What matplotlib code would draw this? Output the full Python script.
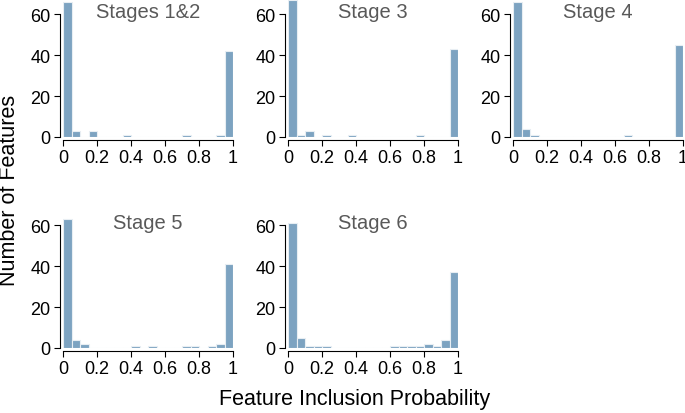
import matplotlib
matplotlib.use('Agg')
import matplotlib.pyplot as plt
import numpy as np
from matplotlib.ticker import FormatStrFormatter

plt.rcParams['font.family'] = ['Liberation Sans', 'DejaVu Sans']

# bin edges of the inclusion probability histograms (20 bins of 0.05)
bin_edges = np.linspace(0, 1, 21)

stages = ['Stages 1&2', 'Stage 3', 'Stage 4', 'Stage 5', 'Stage 6']

counts_12 = [66, 3, 0, 3, 0, 0, 0, 1, 0, 0, 0, 0, 0, 0, 1, 0, 0, 0, 1, 42]
counts_3 = [67, 1, 3, 0, 1, 0, 0, 1, 0, 0, 0, 0, 0, 0, 0, 1, 0, 0, 0, 43]
counts_4 = [66, 4, 1, 0, 0, 0, 0, 0, 0, 0, 0, 0, 0, 1, 0, 0, 0, 0, 0, 45]
counts_5 = [63, 4, 2, 0, 0, 0, 0, 0, 1, 0, 1, 0, 0, 0, 1, 1, 0, 1, 2, 41]
counts_6 = [61, 5, 1, 1, 1, 0, 0, 0, 0, 0, 0, 0, 1, 1, 1, 1, 2, 1, 4, 37]

all_counts = [counts_12, counts_3, counts_4, counts_5, counts_6]

W, H = 685, 414
fig = plt.figure(figsize=(W / 100, H / 100), dpi=100)

lefts = [63, 288, 513]
tops = [0, 211]
aw, ah = 170, 138

bar_color = '#7da3c1'

for i, (name, cnt) in enumerate(zip(stages, all_counts)):
    r, c = divmod(i, 3)
    x0 = lefts[c]
    y0 = tops[r]
    ax = fig.add_axes([x0 / W, 1 - (y0 + ah) / H, aw / W, ah / H])
    ax.bar(bin_edges[:-1], cnt, width=0.05, align='edge',
           color=bar_color, edgecolor='#e8eef3', linewidth=0.8)
    ax.set_xlim(0, 1)
    ax.set_ylim(0, 67.5)
    ax.set_xticks([0, 0.2, 0.4, 0.6, 0.8, 1])
    ax.set_yticks([0, 20, 40, 60])
    ax.xaxis.set_major_formatter(FormatStrFormatter('%g'))
    for s in ['top', 'right']:
        ax.spines[s].set_visible(False)
    ax.spines['left'].set_position(('outward', 2))
    ax.spines['bottom'].set_position(('outward', 2))
    ax.spines['left'].set_bounds(0, 60)
    ax.spines['bottom'].set_bounds(0, 1)
    ax.tick_params(direction='out', length=4, width=0.8, labelsize=13, colors='black', pad=3)
    ax.text(0.5, 0.91, name, transform=ax.transAxes, ha='center', va='center',
            fontsize=14.5, color='#595959')

fig.text(10 / W, 1 - 190 / H, 'Number of Features', rotation=90, ha='center', va='center',
         fontsize=15.5)
fig.text(355 / W, 1 - 400 / H, 'Feature Inclusion Probability', ha='center', va='center',
         fontsize=15.5)

fig.savefig('out.png', dpi=100)
